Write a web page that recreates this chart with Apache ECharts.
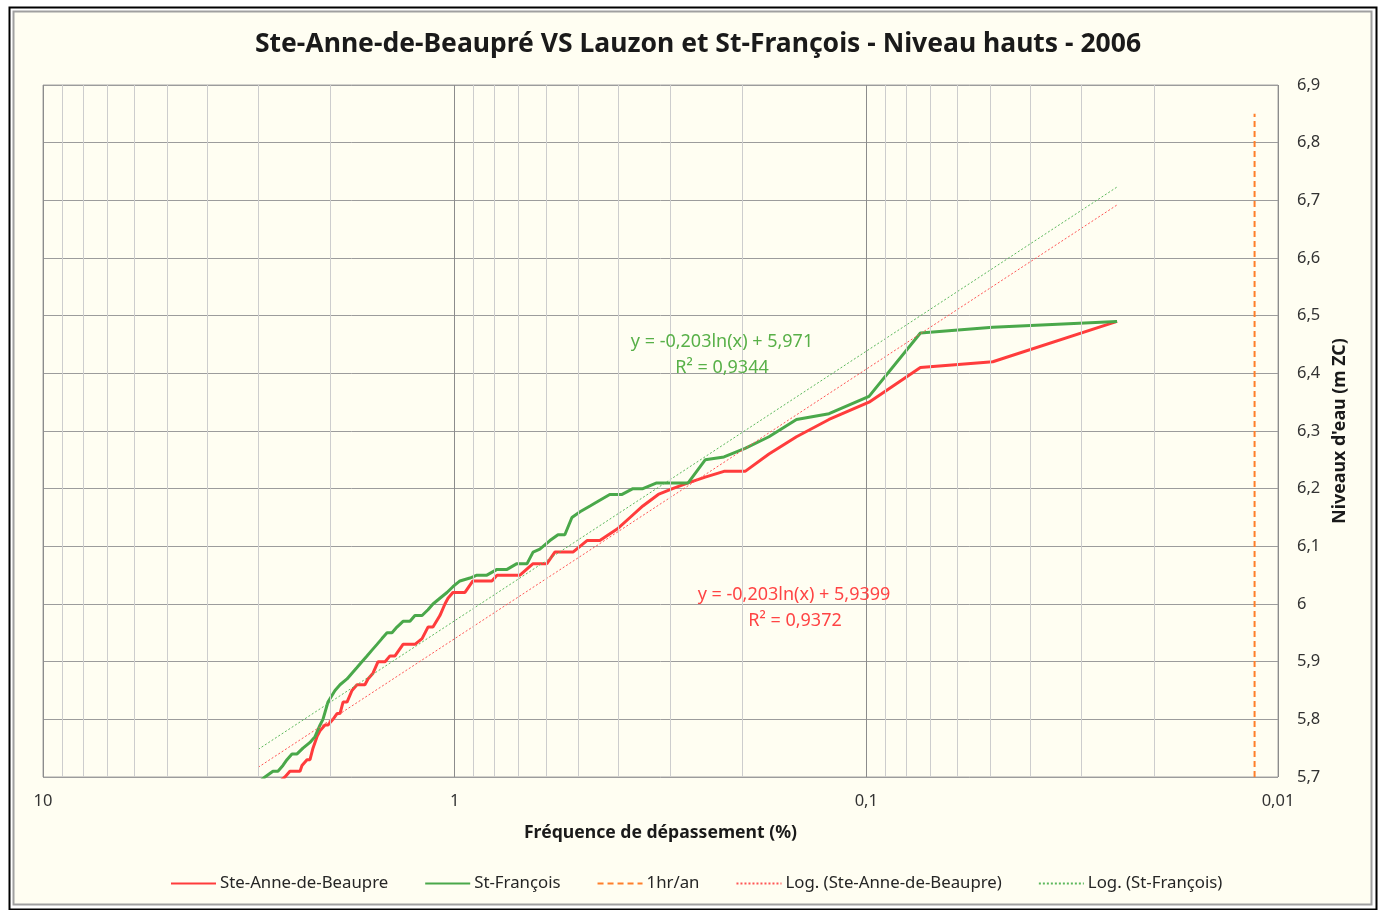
<!DOCTYPE html>
<html>
<head>
<meta charset="utf-8">
<script src="https://cdn.jsdelivr.net/npm/echarts@6/dist/echarts.min.js"></script>
<style>
  html, body { margin: 0; padding: 0; background: #ffffff; }
  #chart { width: 1381px; height: 910px; }
</style>
</head>
<body>
<div id="chart"></div>
<script>
// Exceedance frequency (%) and high water level (m ZC), 2006
const steAnne = [
  [3.0, 5.66], [2.584, 5.70], [2.513, 5.71], [2.375, 5.71], [2.349, 5.72],
  [2.284, 5.73], [2.246, 5.73], [2.209, 5.75], [2.160, 5.77], [2.124, 5.78],
  [2.065, 5.79], [2.031, 5.79], [1.975, 5.80], [1.931, 5.81], [1.899, 5.81],
  [1.867, 5.83], [1.826, 5.83], [1.776, 5.85], [1.727, 5.86], [1.698, 5.86],
  [1.652, 5.86], [1.624, 5.87], [1.579, 5.88], [1.535, 5.90], [1.476, 5.90],
  [1.436, 5.91], [1.396, 5.91], [1.335, 5.93], [1.249, 5.93], [1.200, 5.94],
  [1.161, 5.96], [1.129, 5.96], [1.086, 5.98], [1.056, 6.00], [1.038, 6.01],
  [1.010, 6.02], [0.944, 6.02], [0.903, 6.04], [0.812, 6.04], [0.789, 6.05],
  [0.694, 6.05], [0.645, 6.07], [0.597, 6.07], [0.571, 6.09], [0.516, 6.09],
  [0.477, 6.11], [0.444, 6.11], [0.403, 6.13], [0.375, 6.15], [0.349, 6.17],
  [0.3202, 6.19], [0.2956, 6.20], [0.2709, 6.21], [0.2463, 6.22], [0.2217, 6.23],
  [0.1970, 6.23], [0.1724, 6.26], [0.1478, 6.29], [0.1232, 6.32], [0.0985, 6.35],
  [0.0739, 6.41], [0.0493, 6.42], [0.0246, 6.49]
];

const stFrancois = [
  [3.0, 5.69], [2.889, 5.70], [2.763, 5.71], [2.687, 5.71], [2.613, 5.72],
  [2.555, 5.73], [2.484, 5.74], [2.415, 5.74], [2.336, 5.75], [2.246, 5.76],
  [2.184, 5.77], [2.124, 5.79], [2.089, 5.80], [2.031, 5.83], [1.953, 5.85],
  [1.899, 5.86], [1.826, 5.87], [1.776, 5.88], [1.727, 5.89], [1.680, 5.90],
  [1.633, 5.91], [1.588, 5.92], [1.544, 5.93], [1.502, 5.94], [1.460, 5.95],
  [1.420, 5.95], [1.381, 5.96], [1.335, 5.97], [1.284, 5.97], [1.249, 5.98],
  [1.200, 5.98], [1.161, 5.99], [1.129, 6.00], [1.086, 6.01], [1.044, 6.02],
  [1.010, 6.03], [0.971, 6.04], [0.918, 6.045], [0.883, 6.05], [0.835, 6.05],
  [0.789, 6.06], [0.746, 6.06], [0.706, 6.07], [0.667, 6.07], [0.645, 6.09],
  [0.621, 6.095], [0.587, 6.11], [0.561, 6.12], [0.540, 6.12], [0.519, 6.15],
  [0.496, 6.16], [0.469, 6.17], [0.444, 6.18], [0.420, 6.19], [0.392, 6.19],
  [0.369, 6.20], [0.349, 6.20], [0.323, 6.21], [0.2956, 6.21], [0.2709, 6.21],
  [0.2463, 6.25], [0.2217, 6.255], [0.1970, 6.27], [0.1724, 6.29], [0.1478, 6.32],
  [0.1232, 6.33], [0.0985, 6.36], [0.0739, 6.47], [0.0493, 6.48], [0.0246, 6.49]
];

// One hour per year as a frequency (%)
const oneHourPerYear = 0.0114;
const oneHourRange = [5.7, 6.85];

// Logarithmic fits: y = a ln(x) + b
const fitSteAnne = { a: -0.203, b: 5.9399, r2: '0,9372' };
const fitStFrancois = { a: -0.203, b: 5.971, r2: '0,9344' };
const fitRange = [3.0, 0.0246];

// Axis ticks
const xMajorTicks = [10, 1, 0.1, 0.01];
const xMinorTicks = [
  9, 8, 7, 6, 5, 4, 3, 2,
  0.9, 0.8, 0.7, 0.6, 0.5, 0.4, 0.3, 0.2,
  0.09, 0.08, 0.07, 0.06, 0.05, 0.04, 0.03, 0.02
];
const yRange = [5.7, 6.9];
const yStep = 0.1;

const FONT = '"Noto Sans", "Open Sans", sans-serif';
const RED = '#ff3c3c';
const GREEN = '#4aa84a';
const ORANGE = '#ff7f2a';

function fitLine(fit) {
  return fitRange.map(x => [x, fit.a * Math.log(x) + fit.b]);
}
function fmtNum(v) {
  return String(v).replace('.', ',');
}
function eqText(fit) {
  return 'y = ' + fmtNum(fit.a) + 'ln(x) + ' + fmtNum(fit.b);
}

const chart = echarts.init(document.getElementById('chart'), null, { renderer: 'canvas' });

const eqFont = '18px ' + FONT;

const option = {
  backgroundColor: '#ffffff',
  animation: false,
  textStyle: { fontFamily: FONT },
  title: {
    text: 'Ste-Anne-de-Beaupré VS Lauzon et St-François - Niveau hauts - 2006',
    left: 693,
    textAlign: 'center',
    top: 26,
    textStyle: { fontFamily: FONT, fontSize: 26.5, fontWeight: 'bold', color: '#1a1a1a' }
  },
  graphic: [
    { type: 'rect', z: -10, shape: { x: 9.5, y: 7.5, width: 1367, height: 902 },
      style: { fill: '#ffffff', stroke: '#000000', lineWidth: 2 } },
    { type: 'rect', z: -9, shape: { x: 13.5, y: 11.5, width: 1358, height: 893 },
      style: { fill: '#fffef2', stroke: '#a0a0a0', lineWidth: 2 } },
    { type: 'text', z: 10, x: 722, y: 342,
      style: { text: eqText(fitStFrancois), fill: '#58b048', font: eqFont, textAlign: 'center', textVerticalAlign: 'middle' } },
    { type: 'text', z: 10, x: 722, y: 368,
      style: { text: 'R² = ' + fitStFrancois.r2, fill: '#58b048', font: eqFont, textAlign: 'center', textVerticalAlign: 'middle' } },
    { type: 'text', z: 10, x: 794, y: 595,
      style: { text: eqText(fitSteAnne), fill: '#ff4444', font: eqFont, textAlign: 'center', textVerticalAlign: 'middle' } },
    { type: 'text', z: 10, x: 795, y: 621,
      style: { text: 'R² = ' + fitSteAnne.r2, fill: '#ff4444', font: eqFont, textAlign: 'center', textVerticalAlign: 'middle' } }
  ],
  legend: {
    left: 165,
    top: 870,
    itemWidth: 45,
    itemHeight: 14,
    itemGap: 36,
    itemStyle: { opacity: 0 },
    textStyle: { fontFamily: FONT, fontSize: 16.8, color: '#262626', padding: [0, 0, 0, -1] },
    data: ['Ste-Anne-de-Beaupre', 'St-François', '1hr/an', 'Log. (Ste-Anne-de-Beaupre)', 'Log. (St-François)']
  },
  grid: {
    left: 43, right: 103, top: 85, bottom: 133,
    show: true, borderColor: '#a6a6a6', borderWidth: 1, backgroundColor: 'transparent'
  },
  xAxis: {
    type: 'log',
    logBase: 10,
    inverse: true,
    min: xMajorTicks[xMajorTicks.length - 1],
    max: xMajorTicks[0],
    name: 'Fréquence de dépassement (%)',
    nameLocation: 'middle',
    nameGap: 47,
    nameTextStyle: { fontFamily: FONT, fontSize: 17.6, fontWeight: 'bold', color: '#1a1a1a' },
    axisLine: { show: false },
    axisTick: { show: false },
    axisLabel: { margin: 16, fontSize: 16.5, color: '#333333', formatter: v => fmtNum(v) },
    splitLine: { show: true, lineStyle: { color: '#8c8c8c', width: 1 } }
  },
  yAxis: {
    type: 'value',
    position: 'right',
    min: yRange[0],
    max: yRange[1],
    interval: yStep,
    name: "Niveaux d'eau (m ZC)",
    nameLocation: 'middle',
    nameRotate: 90,
    nameGap: 53,
    nameTextStyle: { fontFamily: FONT, fontSize: 17.8, fontWeight: 'bold', color: '#1a1a1a' },
    axisLine: { show: false },
    axisTick: { show: false },
    axisLabel: { margin: 19, fontSize: 16.5, color: '#333333', formatter: v => fmtNum(Math.round(v * 10) / 10) },
    splitLine: { show: true, lineStyle: { color: '#9c9c9c', width: 1 } }
  },
  series: [
    {
      // minor decade grid lines (2..9 of each decade)
      type: 'line',
      name: 'minorGrid',
      data: [],
      z: 1,
      silent: true,
      markLine: {
        silent: true,
        symbol: ['none', 'none'],
        label: { show: false },
        lineStyle: { color: '#cdcdcd', type: 'solid', width: 1 },
        data: xMinorTicks.map(v => ({ xAxis: v }))
      }
    },
    {
      name: 'Ste-Anne-de-Beaupre',
      type: 'line',
      data: steAnne,
      symbol: 'none',
      z: 3,
      lineStyle: { color: RED, width: 3 },
      itemStyle: { color: RED }
    },
    {
      name: 'St-François',
      type: 'line',
      data: stFrancois,
      symbol: 'none',
      z: 3,
      lineStyle: { color: GREEN, width: 3 },
      itemStyle: { color: GREEN }
    },
    {
      name: '1hr/an',
      type: 'line',
      data: oneHourRange.map(y => [oneHourPerYear, y]),
      symbol: 'none',
      z: 3,
      lineStyle: { color: ORANGE, width: 2, type: [6, 4] },
      itemStyle: { color: ORANGE }
    },
    {
      name: 'Log. (Ste-Anne-de-Beaupre)',
      type: 'line',
      data: fitLine(fitSteAnne),
      symbol: 'none',
      z: 4,
      lineStyle: { color: '#ff5555', width: 1, type: [2, 2] },
      itemStyle: { color: '#ff5555' }
    },
    {
      name: 'Log. (St-François)',
      type: 'line',
      data: fitLine(fitStFrancois),
      symbol: 'none',
      z: 4,
      lineStyle: { color: '#5cb85c', width: 1, type: [2, 2] },
      itemStyle: { color: '#5cb85c' }
    }
  ]
};

chart.setOption(option);
</script>
</body>
</html>
